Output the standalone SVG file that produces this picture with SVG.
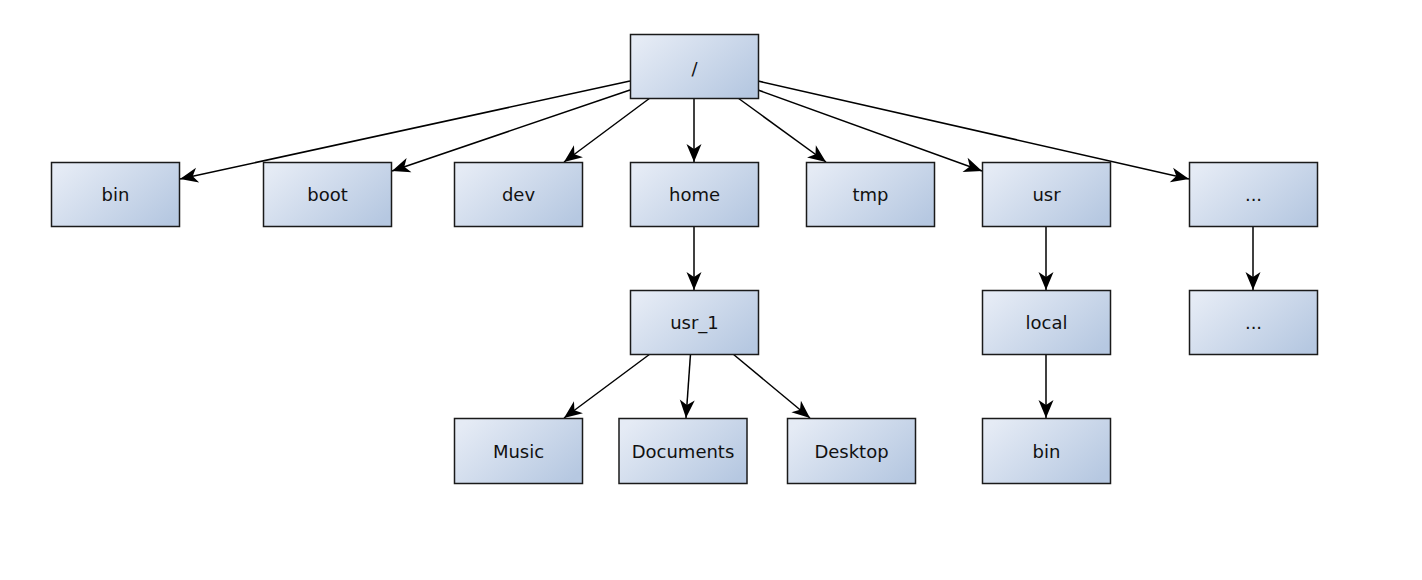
<svg xmlns="http://www.w3.org/2000/svg" width="1422" height="580" viewBox="0 0 1422 580">
<defs>
<linearGradient id="g" x1="0" y1="0.2" x2="1" y2="0.8">
<stop offset="0" stop-color="#e5ebf5"/>
<stop offset="1" stop-color="#b6c8e1"/>
</linearGradient>
<marker id="a" markerUnits="userSpaceOnUse" markerWidth="20" markerHeight="16" refX="19" refY="8" orient="auto" viewBox="0 0 20 16">
<path d="M19,8 L1,0.5 L6,8 L1,15.5 Z" fill="#000"/>
</marker>
<style>
.n rect{fill:url(#g);stroke:#1a1a1a;stroke-width:1.5}
.n text{font-family:"DejaVu Sans",sans-serif;font-size:18px;fill:#111;text-anchor:middle}
#edges line{stroke:#000;stroke-width:1.5;marker-end:url(#a)}
</style>
</defs>
<rect width="1422" height="580" fill="#fff"/>
<g id="edges">
<line x1="630" y1="81" x2="180" y2="179"/>
<line x1="630" y1="90" x2="392" y2="171"/>
<line x1="650" y1="98" x2="564" y2="162"/>
<line x1="694" y1="98" x2="694" y2="162"/>
<line x1="738" y1="98" x2="826" y2="162"/>
<line x1="758" y1="90" x2="982" y2="171"/>
<line x1="758" y1="81" x2="1189" y2="179"/>
<line x1="694" y1="226" x2="694" y2="290"/>
<line x1="650" y1="354" x2="564" y2="418"/>
<line x1="690.5" y1="354" x2="686" y2="418"/>
<line x1="733" y1="354" x2="810" y2="418"/>
<line x1="1046" y1="226" x2="1046" y2="290"/>
<line x1="1046" y1="354" x2="1046" y2="418"/>
<line x1="1253" y1="226" x2="1253" y2="290"/>
</g>
<g id="root" class="n"><rect x="630.5" y="34.5" width="128" height="64"/><text x="694.5" y="75">/</text></g>
<g id="bin" class="n"><rect x="51.5" y="162.5" width="128" height="64"/><text x="115.5" y="201">bin</text></g>
<g id="boot" class="n"><rect x="263.5" y="162.5" width="128" height="64"/><text x="327.5" y="201">boot</text></g>
<g id="dev" class="n"><rect x="454.5" y="162.5" width="128" height="64"/><text x="518.5" y="201">dev</text></g>
<g id="home" class="n"><rect x="630.5" y="162.5" width="128" height="64"/><text x="694.5" y="201">home</text></g>
<g id="tmp" class="n"><rect x="806.5" y="162.5" width="128" height="64"/><text x="870.5" y="201">tmp</text></g>
<g id="usr" class="n"><rect x="982.5" y="162.5" width="128" height="64"/><text x="1046.5" y="201">usr</text></g>
<g id="other" class="n"><rect x="1189.5" y="162.5" width="128" height="64"/><text x="1253.5" y="201">...</text></g>
<g id="usr_1" class="n"><rect x="630.5" y="290.5" width="128" height="64"/><text x="694.5" y="329">usr_1</text></g>
<g id="local" class="n"><rect x="982.5" y="290.5" width="128" height="64"/><text x="1046.5" y="329">local</text></g>
<g id="other2" class="n"><rect x="1189.5" y="290.5" width="128" height="64"/><text x="1253.5" y="329">...</text></g>
<g id="music" class="n"><rect x="454.5" y="418.5" width="128" height="65"/><text x="518.5" y="458">Music</text></g>
<g id="documents" class="n"><rect x="619" y="418.5" width="128" height="65"/><text x="683" y="458">Documents</text></g>
<g id="desktop" class="n"><rect x="787.5" y="418.5" width="128" height="65"/><text x="851.5" y="458">Desktop</text></g>
<g id="bin2" class="n"><rect x="982.5" y="418.5" width="128" height="65"/><text x="1046.5" y="458">bin</text></g>
</svg>
